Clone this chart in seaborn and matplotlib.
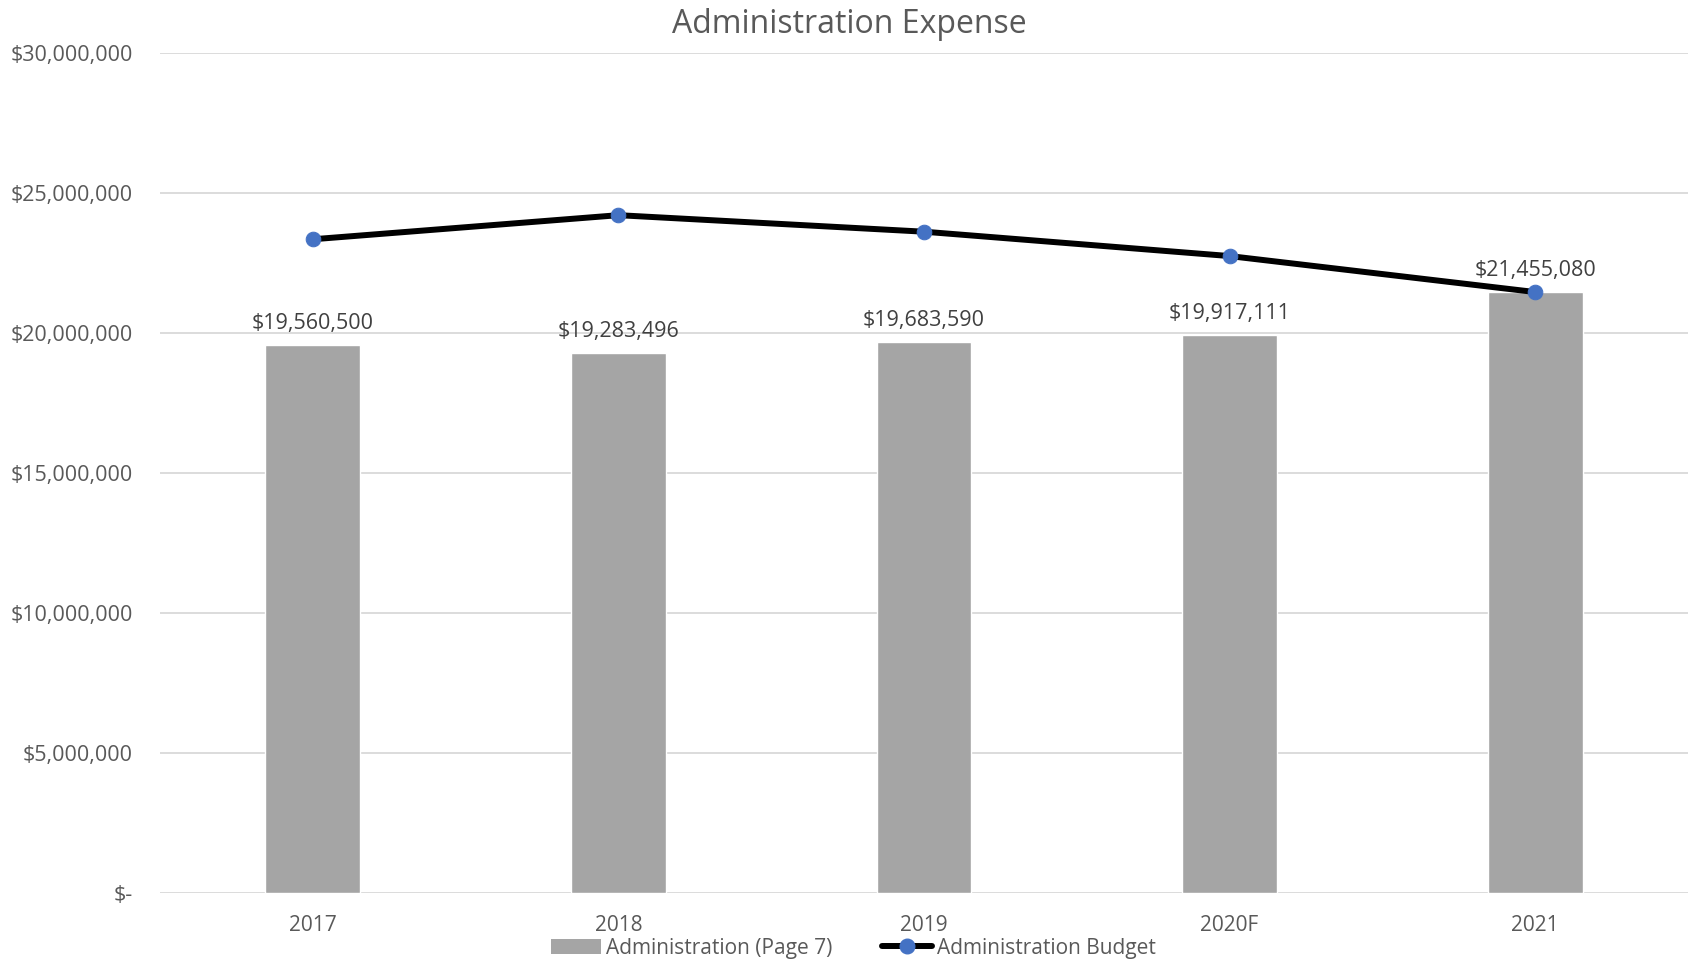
import numpy as np
import matplotlib
matplotlib.use("Agg")
import matplotlib.pyplot as plt
from matplotlib.patches import Patch
from matplotlib.lines import Line2D
import seaborn as sns

# Data
years = ["2017", "2018", "2019", "2020F", "2021"]
actual = [19560500, 19283496, 19683590, 19917111, 21455080]
budget = [23340000, 24200000, 23610000, 22740000, 21455080]
ytick_values = [0, 5000000, 10000000, 15000000, 20000000, 25000000, 30000000]
ytick_labels = ["$-", "$5,000,000", "$10,000,000", "$15,000,000",
                "$20,000,000", "$25,000,000", "$30,000,000"]

sns.set_theme(style="white")
plt.rcParams["font.family"] = ["Open Sans", "DejaVu Sans"]

TEXT = "#595959"
BAR = "#A5A5A5"
MARK = "#4472C4"

fig = plt.figure(figsize=(16.9, 9.64), dpi=100)
ax = fig.add_axes([0.0947, 0.0737, 0.9041, 0.8716])

sns.barplot(x=years, y=actual, color=BAR, width=0.31, saturation=1,
            ax=ax, zorder=2)

x_pos = np.arange(len(years))
sns.lineplot(x=x_pos, y=budget, color="black", linewidth=4.3, ax=ax,
             marker="o", markersize=10.5, markerfacecolor=MARK,
             markeredgecolor=MARK, zorder=3)

# value labels above each bar
for xi, v in zip(x_pos, actual):
    ax.annotate(f"${v:,.0f}", xy=(xi, v), xytext=(0, 8),
                textcoords="offset points", ha="center", va="bottom",
                fontsize=15.5, color="#404040", zorder=4)

ax.set_ylim(0, 30000000)
ax.set_xlim(-0.5, len(years) - 0.5)
ax.set_yticks(ytick_values)
ax.set_yticklabels(ytick_labels)
ax.yaxis.grid(True, color="#D9D9D9", linewidth=1.3, zorder=0)
ax.xaxis.grid(False)
ax.set_axisbelow(True)
for s in ax.spines.values():
    s.set_visible(False)
ax.tick_params(axis="y", length=0, pad=19.5, labelsize=15.5, labelcolor=TEXT)
ax.tick_params(axis="x", length=0, pad=16, labelsize=15, labelcolor=TEXT)
ax.set_xlabel("")
ax.set_ylabel("")

fig.suptitle("Administration Expense", x=0.5025, y=0.9745, va="center",
             fontsize=23, color=TEXT)

handles = [
    Patch(facecolor=BAR, edgecolor="none", label="Administration (Page 7)"),
    Line2D([0], [0], color="black", linewidth=4.3, marker="o",
           markersize=10.5, markerfacecolor=MARK, markeredgecolor=MARK,
           label="Administration Budget"),
]
fig.legend(handles=handles, loc="center", bbox_to_anchor=(0.505, 0.0165),
           ncol=2, frameon=False, fontsize=15, labelcolor=TEXT,
           handlelength=2.4, handletextpad=0.25, columnspacing=2.4,
           borderaxespad=0)

fig.savefig("out.png", dpi=100)
